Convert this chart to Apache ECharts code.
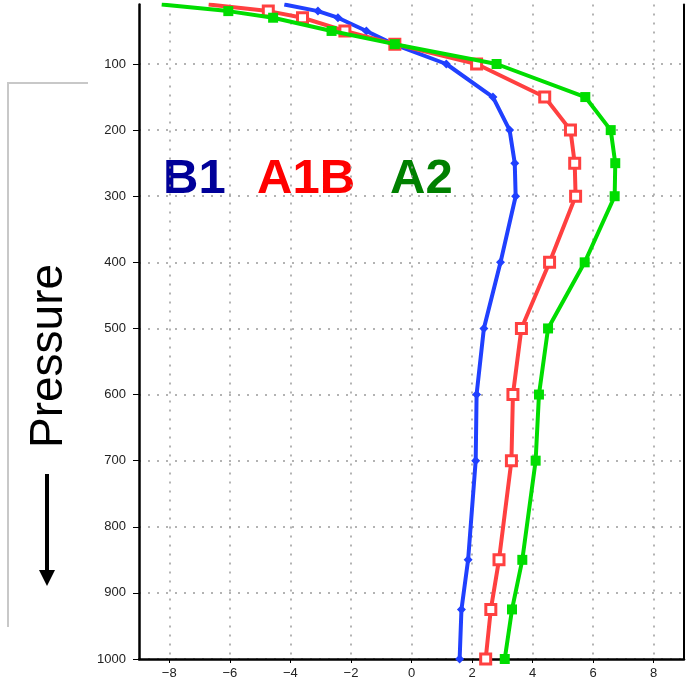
<!DOCTYPE html>
<html>
<head>
<meta charset="utf-8">
<script src="https://cdn.jsdelivr.net/npm/echarts@6/dist/echarts.min.js"></script>
<style>
  html, body { margin: 0; padding: 0; background: #fff; }
  #chart { width: 687px; height: 683px; }
</style>
</head>
<body>
<div id="chart"></div>
<script>
// pressure levels (hPa) and temperature change per scenario
const levels = [10, 20, 30, 50, 70, 100, 150, 200, 250, 300, 400, 500, 600, 700, 850, 925, 1000];
const b1  = [-4.2, -3.09, -2.43, -1.49, -0.6, 1.15, 2.69, 3.24, 3.41, 3.44, 2.94, 2.39, 2.15, 2.12, 1.87, 1.65, 1.59];
const a1b = [-6.7, -4.73, -3.6, -2.2, -0.55, 2.15, 4.4, 5.25, 5.39, 5.42, 4.56, 3.63, 3.35, 3.3, 2.89, 2.62, 2.45];
const a2  = [-8.25, -6.05, -4.57, -2.64, -0.55, 2.81, 5.74, 6.58, 6.73, 6.71, 5.72, 4.51, 4.21, 4.1, 3.66, 3.32, 3.08];

const xTicks = [-8, -6, -4, -2, 0, 2, 4, 6, 8];
const yTicks = [100, 200, 300, 400, 500, 600, 700, 800, 900, 1000];

const chart = echarts.init(document.getElementById('chart'));

// top level sits on the plot edge, no marker there
const toData = (vals) => vals.map((v, i) => {
    if (levels[i] === 10) return { value: [v, levels[i]], symbol: 'none' };
    return [v, levels[i]];
});

const gridLine = { show: true, lineStyle: { color: '#9a9a9a', width: 1.5, type: [2, 7] } };

const option = {
    animation: false,
    grid: { left: 139, right: 3, top: 4.5, bottom: 24 },
    xAxis: {
        type: 'value',
        min: -9,
        max: 9,
        axisLine: { show: true, onZero: false, lineStyle: { color: '#000', width: 2.5 } },
        axisTick: { show: true, length: 4, customValues: xTicks, lineStyle: { color: '#000' } },
        axisLabel: {
            customValues: xTicks,
            margin: 8,
            color: '#222',
            fontSize: 13,
            fontFamily: 'Liberation Sans, Arial, sans-serif',
            formatter: (v) => v < 0 ? '\u2212' + Math.abs(v) : String(v)
        },
        splitLine: gridLine
    },
    yAxis: [
        {
            type: 'value',
            inverse: true,
            min: 10,
            max: 1000,
            axisLine: { show: true, onZero: false, lineStyle: { color: '#000', width: 2.5 } },
            axisTick: { show: true, length: 6, customValues: yTicks, lineStyle: { color: '#000' } },
            axisLabel: {
                customValues: yTicks,
                margin: 13,
                color: '#222',
                fontSize: 13,
                fontFamily: 'Liberation Sans, Arial, sans-serif',
                formatter: (v) => String(v)
            },
            splitLine: gridLine
        },
        {
            // right frame line
            type: 'value',
            position: 'right',
            inverse: true,
            min: 10,
            max: 1000,
            axisLine: { show: true, onZero: false, lineStyle: { color: '#000', width: 2 } },
            axisTick: { show: false },
            axisLabel: { show: false },
            splitLine: { show: false }
        }
    ],
    series: [
        {
            name: 'B1',
            type: 'line',
            data: toData(b1),
            symbol: 'diamond',
            symbolSize: 9,
            lineStyle: { color: '#2040ff', width: 4 },
            itemStyle: { color: '#2040ff' },
            z: 3
        },
        {
            name: 'A1B',
            type: 'line',
            data: toData(a1b),
            symbol: 'rect',
            symbolSize: 10,
            lineStyle: { color: '#ff4040', width: 4 },
            itemStyle: { color: '#fff', borderColor: '#ff4040', borderWidth: 3 },
            z: 4
        },
        {
            name: 'A2',
            type: 'line',
            data: toData(a2),
            symbol: 'rect',
            symbolSize: 10,
            lineStyle: { color: '#00dd00', width: 4 },
            itemStyle: { color: '#00dd00' },
            z: 5
        }
    ],
    graphic: [
        // grey bracket on the left
        {
            type: 'polyline',
            shape: { points: [[88, 83], [8, 83], [8, 627]] },
            style: { stroke: '#c8c8c8', lineWidth: 2, fill: null }
        },
        {
            type: 'text',
            x: 49,
            y: 356,
            rotation: Math.PI / 2,
            style: {
                text: 'Pressure',
                fill: '#000',
                font: '46px "Liberation Sans", Arial, sans-serif',
                align: 'center',
                verticalAlign: 'middle'
            }
        },
        {
            type: 'line',
            shape: { x1: 47, y1: 474, x2: 47, y2: 574 },
            style: { stroke: '#000', lineWidth: 4 }
        },
        {
            type: 'polygon',
            shape: { points: [[39, 570], [55, 570], [47, 586]] },
            style: { fill: '#000' }
        },
        // scenario labels
        {
            type: 'text',
            x: 163,
            y: 179,
            style: { text: 'B1', fill: '#000099', font: 'bold 49px "Liberation Sans", Arial, sans-serif', verticalAlign: 'middle' }
        },
        {
            type: 'text',
            x: 257,
            y: 179,
            style: { text: 'A1B', fill: '#ff0000', font: 'bold 49px "Liberation Sans", Arial, sans-serif', verticalAlign: 'middle' }
        },
        {
            type: 'text',
            x: 390,
            y: 179,
            style: { text: 'A2', fill: '#008000', font: 'bold 49px "Liberation Sans", Arial, sans-serif', verticalAlign: 'middle' }
        }
    ]
};

chart.setOption(option);
</script>
</body>
</html>
